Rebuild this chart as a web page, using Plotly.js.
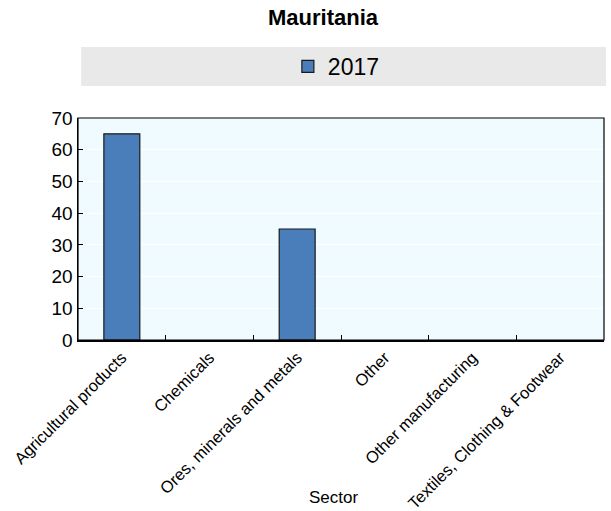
<!DOCTYPE html>
<html>
<head>
<meta charset="utf-8">
<script src="https://cdn.plot.ly/plotly-3.0.1.min.js"></script>
<style>html,body{margin:0;padding:0;background:#fff;}#chart{width:611px;height:511px;}</style>
</head>
<body>
<div id="chart"></div>
<script>
const categories = ["Agricultural products", "Chemicals", "Ores, minerals and metals", "Other", "Other manufacturing", "Textiles, Clothing & Footwear"];
const values2017 = [65, null, 35, null, null, null];
const seriesName = "2017";
const yTicks = [0, 10, 20, 30, 40, 50, 60, 70];
const xAxisTitle = "Sector";

const trace = {
  type: "bar",
  x: categories,
  y: values2017,
  name: seriesName,
  width: 0.41,
  marker: {color: "#4a7ebb", line: {color: "#1a1a1a", width: 1.2}},
  showlegend: true
};

const layout = {
  width: 611, height: 511,
  margin: {l: 78, r: 7, t: 118, b: 171},
  paper_bgcolor: "#ffffff",
  plot_bgcolor: "#f0fbff",
  font: {family: "Liberation Sans, Arial, sans-serif", color: "#000", size: 16},
  title: {text: "<b>Mauritania</b>", x: 0.5286, xanchor: "center", y: 0.966, yanchor: "middle", font: {size: 22, family: "Liberation Sans, Arial, sans-serif"}},
  showlegend: true,
  legend: {orientation: "h", x: 0.399, xanchor: "left", y: 1.232, yanchor: "middle", bgcolor: "rgba(0,0,0,0)", font: {size: 23}, itemwidth: 30},
  xaxis: {
    type: "category",
    tickangle: -45,
    ticks: "inside", ticklen: 5, tickcolor: "#000",
    tickson: "boundaries",
    showline: true, linecolor: "#000", linewidth: 1.5, mirror: false,
    showgrid: false,
    tickfont: {size: 16.5},
    automargin: false
  },
  yaxis: {
    range: [0, 70],
    tickvals: yTicks,
    ticks: "inside", ticklen: 5, tickcolor: "#000",
    showline: true, linecolor: "#000", linewidth: 1.5, mirror: false,
    showgrid: true, gridcolor: "#ffffff", gridwidth: 1,
    zeroline: false,
    tickfont: {size: 19},
    automargin: false
  },
  annotations: [
    {text: xAxisTitle, xref: "paper", yref: "paper", x: 0.485, y: -0.762, xanchor: "center", yanchor: "bottom", showarrow: false, font: {size: 17}}
  ],
  shapes: [
    {type: "rect", xref: "paper", yref: "paper", x0: 0.006, x1: 1.004, y0: 1.144, y1: 1.32, fillcolor: "#e9e9e9", line: {width: 0}, layer: "below"},
    {type: "rect", xref: "paper", yref: "paper", x0: 0, x1: 1, y0: 0, y1: 1, fillcolor: "rgba(0,0,0,0)", line: {color: "#000", width: 1.2}}
  ]
};

Plotly.newPlot("chart", [trace], layout, {displayModeBar: false, staticPlot: true});
</script>
</body>
</html>
